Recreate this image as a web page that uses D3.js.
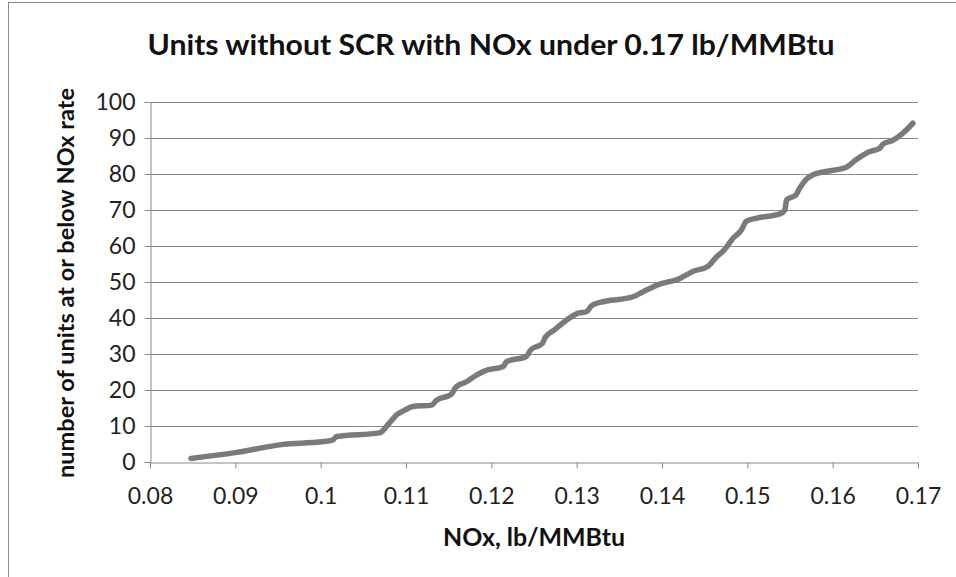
<!DOCTYPE html>
<html>
<head>
<meta charset="utf-8">
<script src="https://cdn.jsdelivr.net/npm/d3@7"></script>
<style>
  html, body { margin: 0; padding: 0; background: #fff; }
  svg { display: block; }
  text { font-family: Lato, "Open Sans", sans-serif; }
</style>
</head>
<body>
<svg id="chart" width="956" height="577"></svg>
<script>
const title = "Units without SCR with NOx under 0.17 lb/MMBtu";
const xLabel = "NOx, lb/MMBtu";
const yLabel = "number of units at or below NOx rate";
const xTicks = [0.08, 0.09, 0.10, 0.11, 0.12, 0.13, 0.14, 0.15, 0.16, 0.17];
const xTickLabels = ["0.08", "0.09", "0.1", "0.11", "0.12", "0.13", "0.14", "0.15", "0.16", "0.17"];
const yTicks = [0, 10, 20, 30, 40, 50, 60, 70, 80, 90, 100];

// traced curve: NOx rate (lb/MMBtu) vs cumulative number of units
const nox = [0.0848, 0.0900, 0.0956, 0.1000, 0.1014, 0.1019, 0.1069, 0.1080, 0.1090, 0.1097,
             0.1108, 0.1130, 0.1136, 0.1153, 0.1159, 0.1171, 0.1183, 0.1192, 0.1214, 0.1218,
             0.1241, 0.1246, 0.1260, 0.1263, 0.1274, 0.1288, 0.1301, 0.1312, 0.1317, 0.1327,
             0.1366, 0.1378, 0.1395, 0.1421, 0.1436, 0.1454, 0.1464, 0.1473, 0.1483, 0.1493,
             0.1499, 0.1510, 0.1538, 0.1544, 0.1546, 0.1557, 0.1560, 0.1569, 0.1577, 0.1592,
             0.1616, 0.1627, 0.1643, 0.1655, 0.1659, 0.1670, 0.1682, 0.1694];
const units = [1.0, 2.6, 4.9, 5.6, 6.1, 7.1, 8.1, 10.7, 13.3, 14.2,
               15.4, 15.8, 17.2, 18.8, 20.9, 22.3, 24.2, 25.3, 26.5, 27.9,
               29.3, 31.1, 33.0, 34.6, 36.7, 39.4, 41.3, 41.8, 43.3, 44.3,
               45.9, 47.3, 49.2, 51.0, 52.9, 54.4, 57.0, 58.9, 62.1, 64.4,
               66.9, 67.7, 68.9, 70.0, 72.8, 74.2, 75.5, 78.5, 79.8, 80.7,
               81.9, 83.9, 86.2, 87.1, 88.3, 89.3, 91.3, 94.1];

const svg = d3.select("#chart");
const plot = { left: 150, right: 918, top: 102, bottom: 462 };

// chart area frame
svg.append("rect").attr("x", 8.5).attr("y", 2.5).attr("width", 1000).attr("height", 1000)
  .attr("fill", "#fff").attr("stroke", "#8c8c8c").attr("stroke-width", 1);

const x = d3.scaleLinear().domain([0.08, 0.17]).range([plot.left, plot.right]);
const y = d3.scaleLinear().domain([0, 100]).range([plot.bottom, plot.top]);

// gridlines
svg.append("g").selectAll("line").data(yTicks.filter(d => d > 0)).join("line")
  .attr("x1", plot.left).attr("x2", plot.right)
  .attr("y1", d => Math.round(y(d)) + 0.5).attr("y2", d => Math.round(y(d)) + 0.5)
  .attr("stroke", "#8a8a8a").attr("stroke-width", 1);

// y axis
const yAxis = svg.append("g").attr("transform", `translate(${plot.left + 0.5},0)`)
  .call(d3.axisLeft(y).tickValues(yTicks).tickSize(6).tickPadding(9));
yAxis.select(".domain").attr("stroke", "#8a8a8a");
yAxis.selectAll(".tick line").attr("stroke", "#8a8a8a");
yAxis.selectAll(".tick text").attr("font-size", 23).attr("fill", "#222")
  .style("font-family", "Lato, sans-serif");

// x axis
const xAxis = svg.append("g").attr("transform", `translate(0,${plot.bottom + 0.5})`)
  .call(d3.axisBottom(x).tickValues(xTicks).tickFormat((d, i) => xTickLabels[i]).tickSize(6).tickPadding(19));
xAxis.select(".domain").attr("stroke", "#8a8a8a");
xAxis.selectAll(".tick line").attr("stroke", "#8a8a8a");
xAxis.selectAll(".tick text").attr("font-size", 23).attr("fill", "#222")
  .style("font-family", "Lato, sans-serif");

// line
const pts = nox.map((v, i) => [v, units[i]]);
svg.append("path").datum(pts)
  .attr("d", d3.line().x(d => x(d[0])).y(d => y(d[1])).curve(d3.curveMonotoneX))
  .attr("fill", "none").attr("stroke", "#7a7a7a").attr("stroke-width", 5.5)
  .attr("stroke-linecap", "round").attr("stroke-linejoin", "round");

// title
svg.append("text").attr("x", 491).attr("y", 55).attr("text-anchor", "middle")
  .attr("font-size", 29).attr("font-weight", "bold").attr("fill", "#111")
  .attr("textLength", 687).attr("lengthAdjust", "spacingAndGlyphs").text(title);

// axis titles
svg.append("text").attr("x", 534).attr("y", 546).attr("text-anchor", "middle")
  .attr("font-size", 24).attr("font-weight", "bold").attr("fill", "#111")
  .attr("textLength", 182).attr("lengthAdjust", "spacingAndGlyphs").text(xLabel);
svg.append("text").attr("transform", "translate(74,283) rotate(-90)").attr("text-anchor", "middle")
  .attr("font-size", 23).attr("font-weight", "bold").attr("fill", "#111")
  .attr("textLength", 390).attr("lengthAdjust", "spacingAndGlyphs").text(yLabel);
</script>
</body>
</html>
